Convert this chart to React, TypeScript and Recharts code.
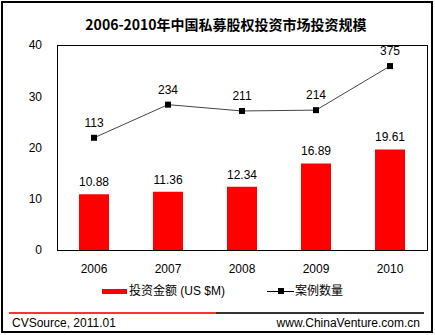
import {
  ComposedChart,
  Bar,
  Line,
  XAxis,
  YAxis,
  LabelList
} from 'recharts'

const years = ['2006', '2007', '2008', '2009', '2010']
const amounts = [10.88, 11.36, 12.34, 16.89, 19.61] // 投资金额 (US $M)
const deals = [113, 234, 211, 214, 375] // 案例数量
const yTicks = [0, 10, 20, 30, 40]

const data = years.map((year, i) => ({
  year,
  amount: amounts[i],
  deals: deals[i]
}))

const latin = '"Liberation Sans", Arial, sans-serif'
const cjk = '"Liberation Sans", "Noto Sans CJK SC", sans-serif'

const SquareDot = (props: any) => {
  const { cx, cy } = props
  if (cx == null || cy == null) return null
  return <rect x={cx - 3} y={cy - 3} width={6} height={6} fill='#000' />
}

export default function App () {
  return (
    <div style={{ position: 'fixed', left: 0, top: 0, width: 435, height: 335, background: '#fff', fontFamily: latin }}>
      <div style={{ position: 'absolute', left: 1, top: 1, width: 432, height: 332, border: '2px solid #000', boxSizing: 'border-box' }} />

      <div style={{ position: 'absolute', left: 0, top: 15, width: 452, textAlign: 'center', fontFamily: '"Noto Sans CJK SC", sans-serif', fontWeight: 700, fontSize: 14, lineHeight: '18px', color: '#000' }}>
        2006-2010年中国私募股权投资市场投资规模
      </div>

      <div style={{ position: 'absolute', left: 0, top: 0 }}>
        <ComposedChart
          width={435}
          height={335}
          data={data}
          margin={{ top: 45, right: 8, bottom: 55, left: 0 }}
        >
          <XAxis
            dataKey='year'
            height={30}
            axisLine={false}
            tickLine={false}
            tickMargin={8}
            tick={{ fill: '#000', fontSize: 12, fontFamily: latin }}
          />
          <YAxis
            yAxisId='left'
            width={57}
            domain={[0, 40]}
            ticks={yTicks}
            axisLine={false}
            tickLine={false}
            tickMargin={9}
            tick={{ fill: '#000', fontSize: 12, fontFamily: latin }}
          />
          <YAxis yAxisId='right' orientation='right' width={0} domain={[-297, 452]} hide />

          <Bar yAxisId='left' dataKey='amount' fill='#ff0000' barSize={30} isAnimationActive={false}>
            <LabelList dataKey='amount' position='top' offset={8} fill='#000' fontSize={12} fontFamily={latin} />
          </Bar>

          <Line
            yAxisId='right'
            dataKey='deals'
            type='linear'
            stroke='#444'
            strokeWidth={1}
            dot={<SquareDot />}
            activeDot={false}
            isAnimationActive={false}
          >
            <LabelList dataKey='deals' position='top' offset={11} fill='#000' fontSize={12} fontFamily={latin} />
          </Line>
        </ComposedChart>
      </div>

      {/* plot frame */}
      <div style={{ position: 'absolute', left: 57, top: 45, width: 371, height: 206, border: '1px solid #000', boxSizing: 'border-box', pointerEvents: 'none' }} />

      {/* legend */}
      <div style={{ position: 'absolute', left: 102, top: 289, width: 25, height: 5, background: '#ff0000' }} />
      <div style={{ position: 'absolute', left: 129, top: 283, fontSize: 12, lineHeight: '17px', fontFamily: cjk, color: '#000', whiteSpace: 'nowrap' }}>
        投资金额 (US $M)
      </div>
      <div style={{ position: 'absolute', left: 267, top: 291, width: 27, height: 1, background: '#000' }} />
      <div style={{ position: 'absolute', left: 278, top: 288, width: 6, height: 6, background: '#000' }} />
      <div style={{ position: 'absolute', left: 295, top: 283, fontSize: 12, lineHeight: '17px', fontFamily: cjk, color: '#000', whiteSpace: 'nowrap' }}>
        案例数量
      </div>

      {/* footer */}
      <div style={{ position: 'absolute', left: 9, top: 312, width: 207, height: 2, background: '#ff3333' }} />
      <div style={{ position: 'absolute', left: 216, top: 312, width: 208, height: 2, background: '#333' }} />
      <div style={{ position: 'absolute', left: 12, top: 316, fontSize: 12, lineHeight: '15px', color: '#000' }}>
        CVSource, 2011.01
      </div>
      <div style={{ position: 'absolute', right: 15, top: 316, fontSize: 12, lineHeight: '15px', color: '#000' }}>
        www.ChinaVenture.com.cn
      </div>
    </div>
  )
}
